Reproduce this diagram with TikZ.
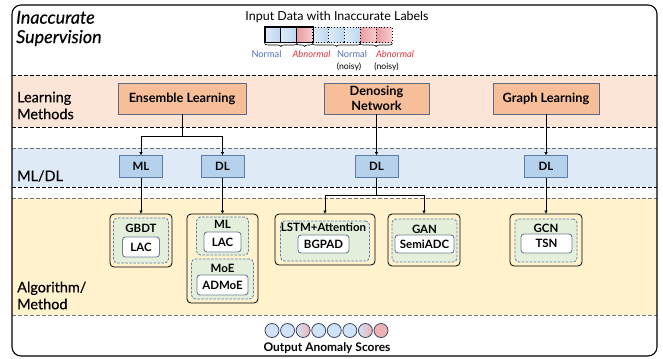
\documentclass[tikz,border=0pt]{standalone}
\usepackage{fontspec}
\setmainfont{Lato}
\newfontfamily\medfont[FakeBold=0.35]{Lato}
\usetikzlibrary{arrows.meta,decorations.pathreplacing,shadings}
\definecolor{orangeband}{HTML}{FCE5D6}
\definecolor{blueband}{HTML}{DEEAF6}
\definecolor{yellowband}{HTML}{FFF2CC}
\definecolor{orangebox}{HTML}{F6BF99}
\definecolor{boxborder}{HTML}{5B6B87}
\definecolor{bluebox}{HTML}{B5D1EC}
\definecolor{blueborder}{HTML}{5E7CA6}
\definecolor{greenfill}{HTML}{E3EFDA}
\definecolor{dashblue}{HTML}{5B7DB3}
\definecolor{grayborder}{HTML}{6F7D96}
\definecolor{normalblue}{HTML}{4C72B6}
\definecolor{abnred}{HTML}{E0363C}
\definecolor{cellblueA}{HTML}{DCEAF9}
\definecolor{cellblueB}{HTML}{BCD6F1}
\definecolor{cellredA}{HTML}{E99CA1}
\definecolor{cellredB}{HTML}{F6CDCF}
\definecolor{cblue}{HTML}{CFE2F7}
\definecolor{cred}{HTML}{EDB2B5}
\definecolor{circborder}{HTML}{3C4660}
\tikzset{
  bandblack/.style={draw=black, line width=0.8bp, dash pattern=on 3.5bp off 2.5bp},
  bandgray/.style={draw=black!55, line width=0.8bp, dash pattern=on 3.5bp off 2.5bp},
  lmbox/.style={draw=boxborder, fill=orangebox, line width=0.8bp, inner sep=0pt, align=center,
    font=\fontsize{12.8}{14.5}\selectfont\bfseries},
  mdbox/.style={draw=blueborder, fill=bluebox, line width=0.8bp, inner sep=0pt,
    minimum width=43bp, minimum height=22bp, font=\fontsize{11.5}{13}\selectfont\bfseries},
  algout/.style={draw=black, fill=yellowband, line width=0.8bp, rounded corners=4bp, inner sep=0pt},
  algdash/.style={draw=dashblue, fill=greenfill, line width=0.8bp, dash pattern=on 2.5bp off 1.5bp,
    rounded corners=4bp, inner sep=0pt},
  wbox/.style={draw=grayborder, fill=white, line width=0.9bp, rounded corners=3bp, inner sep=0pt,
    font=\fontsize{11.5}{13}\selectfont\bfseries},
  ttl/.style={inner sep=0pt, font=\fontsize{11.5}{13}\selectfont\bfseries},
  sidelabel/.style={inner sep=0pt, anchor=west, align=left, font=\fontsize{14.5}{17}\medfont},
  arr/.style={-{Triangle[length=3bp,width=3bp]}, line width=0.7bp},
  conn/.style={line width=0.7bp},
  cell/.style={inner sep=0pt, minimum width=15.875bp, minimum height=15bp, line width=0.9bp},
  solidcell/.style={cell, draw=black},
  dotcell/.style={cell, draw=black, dotted},
  bluecell/.style={left color=cellblueA, right color=cellblueB},
  redcell/.style={left color=cellredA, right color=cellredB},
  brc/.style={decorate, decoration={brace, mirror, amplitude=3bp, raise=1bp}, line width=0.6bp},
  circ/.style={circle, draw=circborder, line width=0.8bp, minimum size=14bp, inner sep=0pt},
  scoreblue/.style={fill=cblue},
  scorered/.style={fill=cred},
  scoremix/.style={left color=cblue, right color=cred},
  lbl/.style={inner sep=0pt, font=\fontsize{9.3}{11}\selectfont},
}
\begin{document}
\begin{tikzpicture}[x=1bp,y=-1bp]
\useasboundingbox (0,0) rectangle (663,358);
% bands
\fill[orangeband] (12,75) rectangle (657,127);
\fill[blueband] (12,148) rectangle (657,187);
\fill[yellowband] (12,198) rectangle (657,315);
\draw[bandblack] (12,75) -- (657,75);
\draw[bandblack] (12,127) -- (657,127);
\draw[bandgray] (12,148) -- (657,148);
\draw[bandblack] (12,187) -- (657,187);
\draw[bandgray] (12,198) -- (657,198);
\draw[bandgray] (12,315) -- (657,315);
% side labels
\node[inner sep=0pt, anchor=west, align=left, font=\fontsize{18}{19.5}\medfont\itshape] (sup) at (16,28.5) {Inaccurate\\Supervision};
\node[sidelabel] (lm) at (17,105.5) {Learning\\Methods};
\node[sidelabel] (mldl) at (17,176) {ML/DL};
\node[sidelabel] (am) at (17,295.5) {Algorithm/\\Method};
% input data
\node[inner sep=0pt, font=\fontsize{12.5}{14}\selectfont] (inp) at (337,17) {Input Data with Inaccurate Labels};
\node[solidcell, bluecell] (c1) at (272.94,34.5) {};
\node[solidcell, bluecell] (c2) at (288.81,34.5) {};
\node[solidcell, redcell] (c3) at (304.69,34.5) {};
\node[dotcell, bluecell] (c4) at (320.56,34.5) {};
\node[dotcell, bluecell] (c5) at (336.44,34.5) {};
\node[dotcell, bluecell] (c6) at (352.31,34.5) {};
\node[dotcell, redcell] (c7) at (368.19,34.5) {};
\node[dotcell, redcell] (c8) at (384.06,34.5) {};
\draw[line width=0.9bp] (c1.north west) rectangle (c3.south east);
\draw[brc] (c1.south west) -- (c2.south east);
\draw[brc] (c3.south west) -- (c3.south east);
\draw[brc] (c4.south west) -- (c6.south east);
\draw[brc] (c7.south west) -- (c8.south east);
\node[lbl, text=normalblue] (n1) at (266.5,54.5) {Normal};
\node[lbl, text=abnred, font=\fontsize{9.3}{11}\selectfont\itshape] (a1) at (311.5,54.5) {Abnormal};
\node[lbl, text=normalblue] (n2) at (352,54.5) {Normal};
\node[lbl, text=abnred, font=\fontsize{9.3}{11}\selectfont\itshape] (a2) at (395,54.5) {Abnormal};
\node[lbl, font=\fontsize{8.7}{10}\selectfont] (ns1) at (349,67) {(noisy)};
\node[lbl, font=\fontsize{8.7}{10}\selectfont] (ns2) at (386.5,67) {(noisy)};
% learning methods
\node[lmbox, minimum width=128bp, minimum height=31bp] (ens) at (182,98.5) {Ensemble Learning};
\node[lmbox, minimum width=105bp, minimum height=31bp] (den) at (376.5,98.5) {Denosing\\Network};
\node[lmbox, minimum width=106bp, minimum height=31bp] (gra) at (546,98.5) {Graph Learning};
% ML/DL
\node[mdbox] (ml1) at (141,166.5) {ML};
\node[mdbox] (dl1) at (222.5,166.5) {DL};
\node[mdbox] (dl2) at (376.5,166.5) {DL};
\node[mdbox] (dl3) at (546,166.5) {DL};
% algorithms
\node[algout, minimum width=62bp, minimum height=53bp] (gbO) at (141,240.5) {};
\node[algdash, minimum width=55bp, minimum height=45bp] (gbD) at (141,240.5) {};
\node[ttl] (gbT) at (141,228) {GBDT};
\node[wbox, minimum width=37bp, minimum height=20bp] (gbL) at (141,247) {LAC};

\node[algout, minimum width=71bp, minimum height=89bp] (grO) at (222.5,258.5) {};
\node[algdash, minimum width=52bp, minimum height=38bp] (mlD) at (222.5,236) {};
\node[ttl] (mlT) at (222.5,224.5) {ML};
\node[wbox, minimum width=37bp, minimum height=20bp] (mlL) at (222.5,242) {LAC};
\node[algdash, minimum width=62bp, minimum height=40bp] (moD) at (222.5,279) {};
\node[ttl] (moT) at (222.5,268) {MoE};
\node[wbox, minimum width=51bp, minimum height=20bp] (moL) at (222.5,285) {ADMoE};

\node[algout, minimum width=100bp, minimum height=51bp] (lsO) at (325,239.5) {};
\node[algdash, minimum width=89bp, minimum height=40bp] (lsD) at (325,241) {};
\node[ttl] (lsT) at (323.5,227.5) {LSTM+Attention};
\node[wbox, minimum width=51bp, minimum height=18bp] (lsL) at (323.5,244) {BGPAD};

\node[algout, minimum width=72bp, minimum height=52bp] (gaO) at (424,240) {};
\node[algdash, minimum width=65bp, minimum height=43bp] (gaD) at (424.5,240.5) {};
\node[ttl] (gaT) at (424.5,229) {GAN};
\node[wbox, minimum width=59bp, minimum height=18bp] (gaL) at (424.5,244) {SemiADC};

\node[algout, minimum width=72bp, minimum height=52bp] (gcO) at (546,240) {};
\node[algdash, minimum width=62bp, minimum height=43bp] (gcD) at (546,240.5) {};
\node[ttl] (gcT) at (546,228) {GCN};
\node[wbox, minimum width=51bp, minimum height=19bp] (gcL) at (546.5,243.5) {TSN};
% connectors
\coordinate (j1) at (182,136);
\draw[conn] (ens.south) -- (j1);
\draw[arr] (j1) -| (ml1.north);
\draw[arr] (j1) -| (dl1.north);
\draw[arr] (ml1.south) -- (gbO.north);
\draw[arr] (dl1.south) -- (dl1.south |- grO.north);
\draw[arr] (den.south) -- (dl2.north);
\coordinate (j2) at (376.5,195);
\draw[conn] (dl2.south) -- (j2);
\draw[arr] (j2) -| (lsO.north);
\draw[arr] (j2) -| (gaO.north);
\draw[arr] (gra.south) -- (dl3.north);
\draw[arr] (dl3.south) -- (gcO.north);
% output scores
\foreach \i/\sty in {0/scoreblue,1/scoreblue,2/scoremix,3/scoreblue,4/scoreblue,5/scoreblue,6/scoremix,7/scorered}{
  \node[circ, \sty] (o\i) at (272+15.57*\i,330.5) {};
}
\node[inner sep=0pt, font=\fontsize{12}{14}\selectfont\bfseries] (out) at (327,348) {Output Anomaly Scores};
% outer border
\draw[line width=1.1bp, rounded corners=9bp] (12,5) rectangle (657,356);
\end{tikzpicture}
\end{document}
